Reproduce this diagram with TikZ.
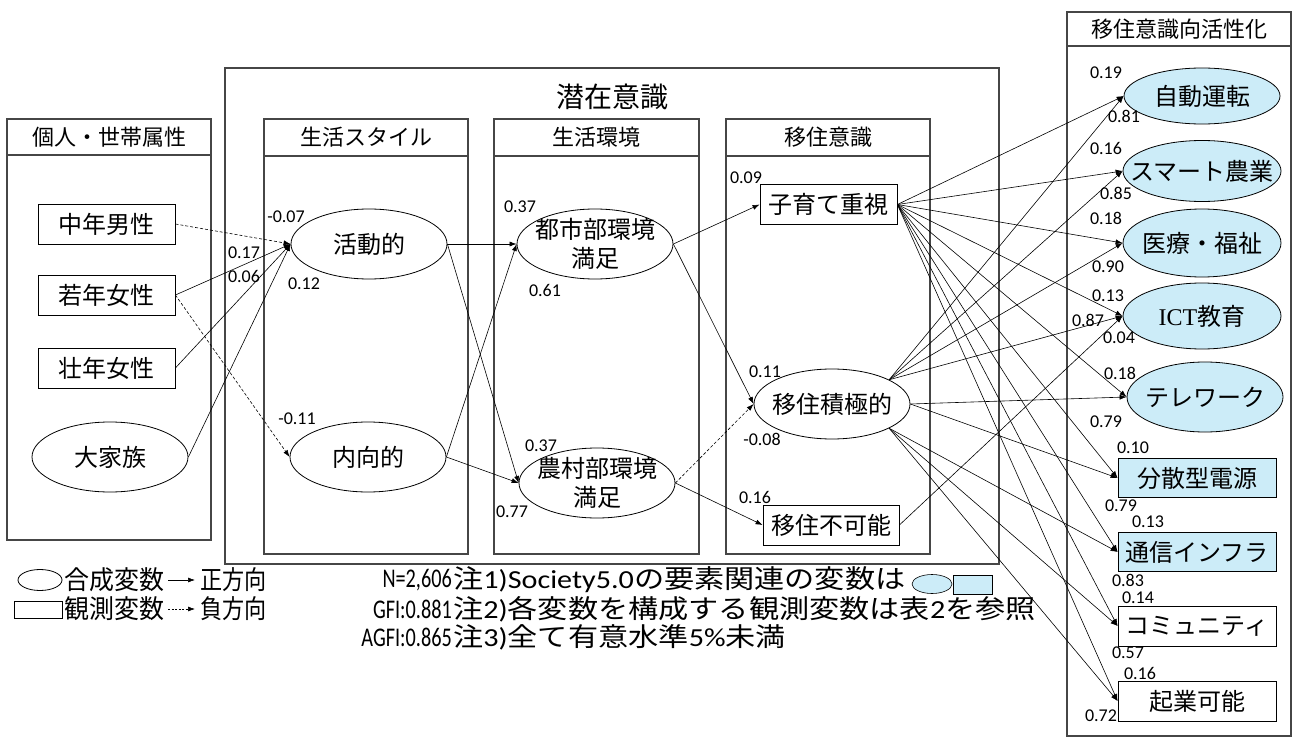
\documentclass[tikz,border=0pt]{standalone}
\usepackage{fontspec}
\usepackage{graphicx}
\setmainfont{Carlito}
\newfontfamily\jp{Noto Sans CJK JP}
\newfontfamily\lser{Liberation Serif}
\usetikzlibrary{shapes.geometric,arrows.meta}
\definecolor{sblue}{RGB}{204,236,248}
\definecolor{pane}{RGB}{70,70,70}
\begin{document}
\begin{tikzpicture}[x=1pt,y=-1pt,
  ltext/.style={font=\jp\fontsize{24}{29}\selectfont, align=center, inner sep=0pt},
  lat/.style={ellipse, draw, line width=0.8pt, minimum width=156pt, minimum height=70pt, inner sep=0pt, label={[ltext]center:#1}},
  obs/.style={rectangle, draw, line width=0.8pt, minimum width=137pt, minimum height=40pt, inner sep=0pt, font=\jp\fontsize{24}{29}\selectfont},
  val/.style={font=\fontsize{18}{18}\selectfont, inner sep=0pt},
  pan/.style={draw=pane, line width=1.1pt},
  hdr/.style={font=\jp\fontsize{22}{22}\selectfont, inner sep=0pt},
  posa/.style={-{Latex[length=7pt,width=5pt]}, line width=0.6pt},
  nega/.style={posa, dash pattern=on 3pt off 2pt},
  legt/.style={font=\jp\fontsize{26}{26}\selectfont, inner sep=0pt, anchor=west},
  stat/.style={font=\fontsize{27}{27}\selectfont, inner sep=0pt, anchor=east},
  note/.style={font=\jp\fontsize{26}{26}\selectfont, inner sep=0pt, anchor=west}
]
\useasboundingbox (0,0) rectangle (1295,738);
% panels
\draw[pan] (7,119) rectangle (211,540); \draw[pan] (7,155) -- (211,155);
\node[hdr] (h1) at (109,137) {個人・世帯属性};
\draw[pan] (225,68) rectangle (999,564);
\node[font=\jp\fontsize{28}{28}\selectfont, inner sep=0pt] (title) at (612,97) {潜在意識};
\draw[pan] (264,119) rectangle (468,554); \draw[pan] (264,156) -- (468,156);
\node[hdr] (h2) at (366,137) {生活スタイル};
\draw[pan] (494,119) rectangle (699,554); \draw[pan] (494,156) -- (699,156);
\node[hdr] (h3) at (596,137) {生活環境};
\draw[pan] (726,119) rectangle (930,554); \draw[pan] (726,156) -- (930,156);
\node[hdr] (h4) at (828,137) {移住意識};
\draw[pan] (1067,12) rectangle (1291,736); \draw[pan] (1067,46) -- (1291,46);
\node[hdr] (h5) at (1179,29) {移住意識向活性化};

% left nodes
\node[obs] (cm) at (106.5,224) {中年男性};
\node[obs] (jw) at (106.5,295) {若年女性};
\node[obs] (sw) at (106.5,368) {壮年女性};
\node[lat={大家族}] (dk) at (110,457) {};
% lifestyle
\node[lat={活動的}] (kd) at (369,244) {};
\node[lat={内向的}] (nk) at (368,457) {};
% environment
\node[lat={{都市部環境\\満足}}] (ts) at (595,244) {};
\node[lat={{農村部環境\\満足}}] (ns) at (597,483) {};
% migration
\node[obs] (kos) at (828.5,204.5) {子育て重視};
\node[lat={移住積極的}] (ksk) at (832,404) {};
\node[obs, minimum width=136pt] (kfk) at (831,525) {移住不可能};
% right targets
\node[lat={自動運転}, fill=sblue, minimum height=56pt] (t1) at (1202,96) {};
\node[lat={スマート農業}, fill=sblue, minimum width=158pt, minimum height=61pt] (t2) at (1202,171) {};
\node[lat={医療・福祉}, fill=sblue, minimum width=158pt, minimum height=68pt] (t3) at (1202,243) {};
\node[lat={{\lser ICT}教育}, fill=sblue, minimum width=158pt, minimum height=66pt] (t4) at (1202,316) {};
\node[lat={テレワーク}, fill=sblue, minimum height=70pt] (t5) at (1205,397) {};
\node[obs, fill=sblue, minimum width=158pt, minimum height=39pt] (t6) at (1197,478) {分散型電源};
\node[obs, fill=sblue, minimum width=158pt, minimum height=39pt] (t7) at (1197,552) {通信インフラ};
\node[obs, minimum width=158pt, minimum height=40pt] (t8) at (1197,626) {コミュニティ};
\node[obs, minimum width=158pt, minimum height=40pt] (t9) at (1197,701) {起業可能};

% connectors left
\draw[nega] (cm.east) -- (kd.west);
\draw[posa] (jw.east) -- (kd.west);
\draw[posa] (sw.east) -- (kd.west);
\draw[posa] (dk.east) -- (kd.west);
\draw[nega] (jw.east) -- (nk.west);
\draw[posa] (kd.east) -- (ts.west);
\draw[posa] (kd.east) -- (ns.west);
\draw[posa] (nk.east) -- (ts.west);
\draw[posa] (nk.east) -- (ns.west);
\draw[posa] (ts.east) -- (kos.west);
\draw[posa] (ts.east) -- (ksk.west);
\draw[nega] (ns.east) -- (ksk.west);
\draw[posa] (ns.east) -- (kfk.west);
% connectors right
\foreach \t in {t1,t2,t3,t4,t5,t6,t7,t8,t9} \draw[posa] (kos.east) -- (\t.west);
\foreach \t in {t1,t2,t3,t4} \draw[posa] (ksk.23) -- (\t.west);
\foreach \t in {t5,t6} \draw[posa] (ksk.east) -- (\t.west);
\foreach \t in {t7,t8,t9} \draw[posa] (ksk.-23) -- (\t.west);
\draw[posa] (kfk.east) -- (t4.west);

% coefficient labels
\node[val] (v1) at (286,217) {-0.07};
\node[val] (v2) at (244,253) {0.17};
\node[val] (v3) at (244,276) {0.06};
\node[val] (v4) at (304,284) {0.12};
\node[val] (v5) at (297,419) {-0.11};
\node[val] (v6) at (520,207) {0.37};
\node[val] (v7) at (545,290) {0.61};
\node[val] (v8) at (541,446) {0.37};
\node[val] (v9) at (512,512) {0.77};
\node[val] (v10) at (746,178) {0.09};
\node[val] (v11) at (765,372) {0.11};
\node[val] (v12) at (762,439) {-0.08};
\node[val] (v13) at (755,497) {0.16};
\node[val] (r1) at (1106,73) {0.19};
\node[val] (r2) at (1124,116) {0.81};
\node[val] (r3) at (1106,148) {0.16};
\node[val] (r4) at (1116,193) {0.85};
\node[val] (r5) at (1106,218) {0.18};
\node[val] (r6) at (1108,267) {0.90};
\node[val] (r7) at (1108,296) {0.13};
\node[val] (r8) at (1088,320) {0.87};
\node[val] (r9) at (1119,338) {0.04};
\node[val] (r10) at (1120,373) {0.18};
\node[val] (r11) at (1106,422) {0.79};
\node[val] (r12) at (1133,448) {0.10};
\node[val] (r13) at (1121,506) {0.79};
\node[val] (r14) at (1148,522) {0.13};
\node[val] (r15) at (1128,580) {0.83};
\node[val] (r16) at (1138,598) {0.14};
\node[val] (r17) at (1128,653) {0.57};
\node[val] (r18) at (1140,673) {0.16};
\node[val] (r19) at (1101,716) {0.72};

% legend
\node[draw, ellipse, line width=0.8pt, minimum width=44pt, minimum height=21pt, inner sep=0pt] (le) at (40,580) {};
\node[legt] (lt1) at (64,580) {\scalebox{0.96}[1]{合成変数}};
\coordinate (la1) at (168,580); \coordinate (la2) at (195,580);
\draw[posa] (la1) -- (la2);
\node[legt] (lt2) at (200,580) {\scalebox{0.85}[1]{正方向}};
\node[draw, line width=0.8pt, minimum width=48pt, minimum height=17pt, inner sep=0pt] (lr) at (38,609.5) {};
\node[legt] (lt3) at (64,609) {\scalebox{0.96}[1]{観測変数}};
\coordinate (lb1) at (168,609); \coordinate (lb2) at (195,609);
\draw[posa, dash pattern=on 2pt off 1.5pt] (lb1) -- (lb2);
\node[legt] (lt4) at (200,609) {\scalebox{0.85}[1]{負方向}};
\node[stat] (s1) at (452,580) {\scalebox{0.75}[1]{N=2,606}};
\node[stat] (s2) at (452,609) {\scalebox{0.75}[1]{GFI:0.881}};
\node[stat] (s3) at (452,637) {\scalebox{0.75}[1]{AGFI:0.865}};
\node[note] (n1) at (453,580) {\scalebox{1.16}[1]{注{\rmfamily 1)Society5.0}の要素関連の変数は}};
\node[draw, ellipse, fill=sblue, line width=0.6pt, minimum width=40pt, minimum height=19pt, inner sep=0pt] (ne) at (932,584) {};
\node[draw, fill=sblue, line width=0.6pt, minimum width=39pt, minimum height=19pt, inner sep=0pt] (nr) at (972.5,584.5) {};
\node[note] (n2) at (453,609) {\scalebox{1.16}[1]{注{\rmfamily 2)}各変数を構成する観測変数は表{\rmfamily 2}を参照}};
\node[note] (n3) at (453,637) {\scalebox{1.16}[1]{注{\rmfamily 3)}全て有意水準{\rmfamily 5\%}未満}};
\end{tikzpicture}
\end{document}
